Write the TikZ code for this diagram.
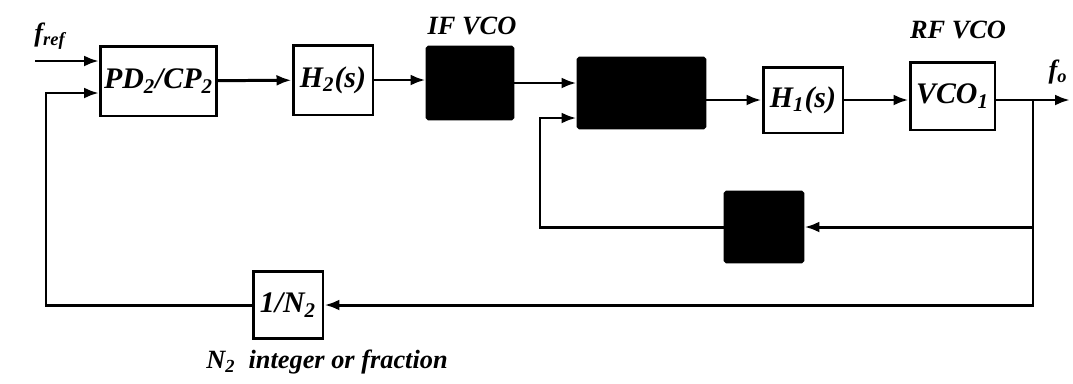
\documentclass[tikz,border=0pt]{standalone}
\usepackage{fontspec}
\setmainfont{Liberation Serif}
\usepackage{tikz}
\usetikzlibrary{arrows.meta,positioning,calc}
\newcommand{\blocktext}{\fontsize{17}{19}\selectfont\bfseries\itshape}
\newcommand{\labtext}{\fontsize{15}{17}\selectfont\bfseries\itshape}

\begin{document}
\begin{tikzpicture}[
  x=0.02cm, y=-0.02cm,
  font=\blocktext,
  box/.style={draw=black, line width=1.7pt, align=center, inner sep=2pt,
              minimum width=1.6cm, minimum height=1.4cm},
  blackbox/.style={draw=black, fill=black, line width=1.7pt, rounded corners=1pt,
                   minimum width=1.7cm, minimum height=1.4cm},
  lab/.style={font=\labtext, inner sep=1pt},
  arr/.style={-{Latex[length=3mm,width=2.2mm]}, line width=1.7pt},
]
\useasboundingbox (0,0) rectangle (1073,383);
\node[box, minimum width=2.18cm] (pd) at (158.5,81) {\textit{PD}\textsubscript{2}/\textit{CP}\textsubscript{2}};
\node[box] (h2) at (333,80) {\textit{H}\textsubscript{2}(\textit{s})};
\node[blackbox, minimum width=1.72cm, minimum height=1.44cm] (ifvco) at (470,83) {};
\node[blackbox, minimum width=2.54cm] (mixer) at (641.5,93) {};
\node[box, minimum height=1.32cm] (h1) at (803,100) {\textit{H}\textsubscript{1}(\textit{s})};
\node[box, minimum width=1.7cm, minimum height=1.36cm] (vco) at (952.5,96) {\textit{VCO}\textsubscript{1}};
\node[blackbox, minimum width=1.56cm] (fbbox) at (764,227) {};
\node[box, minimum width=1.4cm, minimum height=1.34cm] (div) at (288,305) {1/\textit{N}\textsubscript{2}};
% labels
\node[lab] (freflab) at (50,36) {\textit{f}\textsubscript{\textit{ref}}};
\node[lab] (iflab) at (472,26) {IF VCO};
\node[lab] (rflab) at (958,30) {RF VCO};
\node[lab] (folab) at (1058,72) {\textit{f}\textsubscript{\textit{o}}};
\node[lab] (nlab) at (327,362) {\textit{N}\textsubscript{2}\ \ integer or fraction};
% forward path
\coordinate (fin) at (35,61);
\draw[arr] (fin) -- (fin -| pd.west);
\draw[arr] (pd) -- (h2);
\draw[arr] (h2.east) -- (ifvco.west |- h2.east);
\draw[arr] (ifvco.east) -- (mixer.west |- ifvco.east);
\draw[arr] (mixer.east |- h1.west) -- (h1.west);
\draw[arr] (h1.east) -- (vco.west |- h1.east);
\coordinate (tap) at (1033,100);
\coordinate (fout) at (1070,100);
\draw[arr] (vco.east |- tap) -- (fout);
% offset loop
\coordinate (mxl) at (540,227);
\draw[arr] (tap) |- (fbbox.east);
\draw[arr] (fbbox.west) -- (mxl) |- ($(mixer.west)+(0,25)$);
% main loop
\coordinate (fbl) at (46,305);
\draw[arr] (tap) |- (div.east);
\draw[arr] (div.west) -- (fbl) |- ($(pd.west)+(0,12)$);
\end{tikzpicture}
\end{document}
